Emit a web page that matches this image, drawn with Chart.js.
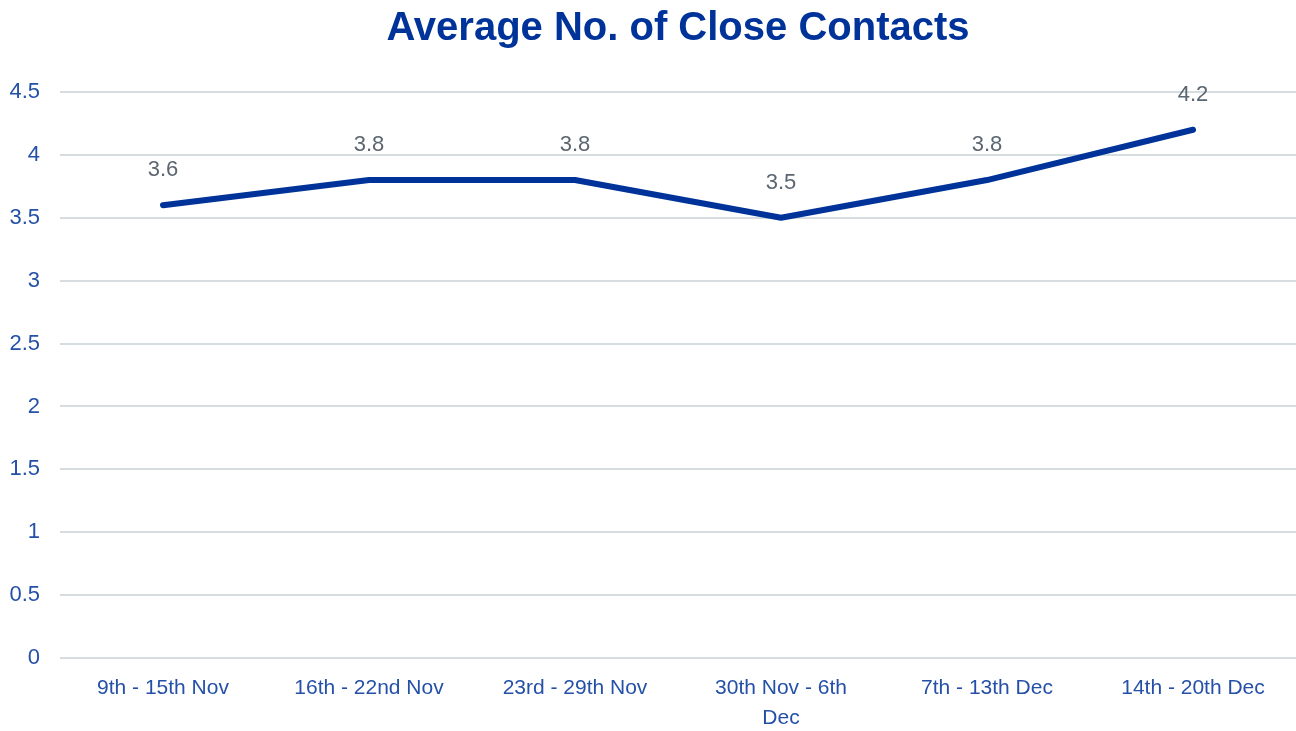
<!DOCTYPE html>
<html>
<head>
<meta charset="utf-8">
<title>Average No. of Close Contacts</title>
<script src="https://cdn.jsdelivr.net/npm/chart.js@4/dist/chart.umd.min.js"></script>
<style>
    body { margin: 0; background: #fff; }
    #wrap { width: 1296px; height: 731px; }
</style>
</head>
<body>
<div id="wrap"><canvas id="contacts-chart"></canvas></div>
<script>
const weeks = ['9th - 15th Nov', '16th - 22nd Nov', '23rd - 29th Nov', ['30th Nov - 6th', 'Dec'], '7th - 13th Dec', '14th - 20th Dec'];
const avgContacts = [3.6, 3.8, 3.8, 3.5, 3.8, 4.2];
const yTicks = [0, 0.5, 1, 1.5, 2, 2.5, 3, 3.5, 4, 4.5];

const labelColor = '#2450a8';
const fontFamily = '"Liberation Sans", Arial, sans-serif';

// no datalabels plugin offline, so draw the values by hand
const valueLabels = {
    id: 'value_labels',
    afterDatasetsDraw: chart => {
        const ctx = chart.ctx;
        const meta = chart.getDatasetMeta(0);
        ctx.save();
        ctx.font = '22px ' + fontFamily;
        ctx.fillStyle = '#5b6670';
        ctx.textAlign = 'center';
        ctx.textBaseline = 'middle';
        meta.data.forEach((pt, i) => {
            ctx.fillText(avgContacts[i].toFixed(1), pt.x, pt.y - 35);
        });
        ctx.restore();
    },
};

const config = {
    type: 'line',
    data: {
        labels: weeks,
        datasets: [
            {
                label: 'Average No. of Close Contacts',
                data: avgContacts,
                borderColor: '#003399',
                borderWidth: 6,
                borderCapStyle: 'round',
                borderJoinStyle: 'round',
                pointRadius: 0,
                tension: 0,
                fill: false,
            },
        ],
    },
    options: {
        responsive: true,
        maintainAspectRatio: false,
        animation: false,
        layout: { padding: { left: 0, right: 0, top: 0, bottom: 0 } },
        plugins: {
            legend: { display: false },
            tooltip: { enabled: false },
            title: {
                display: true,
                text: 'Average No. of Close Contacts',
                fullSize: false,
                color: '#003399',
                font: { family: fontFamily, size: 40, weight: 'bold' },
                padding: { top: 5, bottom: 39 },
            },
        },
        scales: {
            x: {
                offset: true,
                afterFit: scale => { scale.height = 73; },
                grid: { display: false, drawTicks: false },
                border: { display: false },
                ticks: {
                    color: labelColor,
                    font: { family: fontFamily, size: 21, lineHeight: 1.45 },
                    padding: 15,
                    maxRotation: 0,
                    autoSkip: false,
                },
            },
            y: {
                min: 0,
                max: 4.5,
                afterFit: scale => { scale.width = 60; },
                afterBuildTicks: scale => { scale.ticks = yTicks.map(v => ({ value: v })); },
                grid: { color: '#d6dde1', lineWidth: 2, drawTicks: false },
                border: { display: false },
                ticks: {
                    color: labelColor,
                    font: { family: fontFamily, size: 22 },
                    padding: 20,
                    callback: value => String(value),
                },
            },
        },
    },
    plugins: [valueLabels],
};

new Chart(document.getElementById('contacts-chart'), config);
</script>
</body>
</html>
